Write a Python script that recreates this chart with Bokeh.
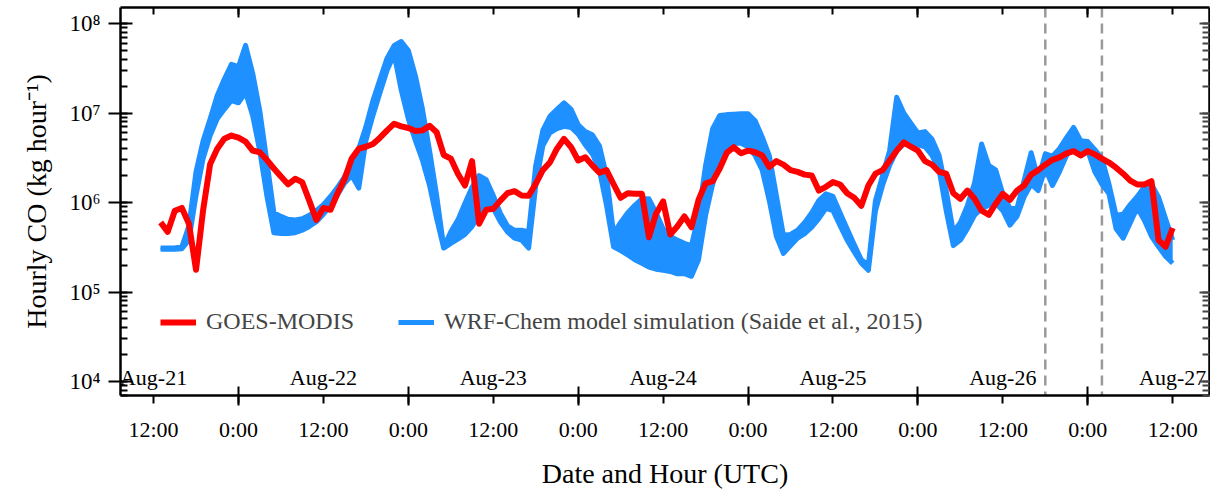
from bokeh.plotting import figure
from bokeh.models import (Range1d, LinearAxis, LogAxis, FixedTicker, LogTicker,
                          CustomJSTickFormatter, Span, Legend, LegendItem)
from bokeh.core.properties import value
from bokeh.embed import file_html
from bokeh.resources import INLINE

FONT = "Liberation Serif"

# ---------------- data (hours since Aug-21 00:00 UTC) ----------------
goes_hours = list(range(13, 157))
goes_co = [
    6.0e5, 4.7e5, 8.1e5, 8.7e5, 5.8e5, 1.77e5, 8.2e5, 2.7e6, 4.0e6, 5.15e6,   # 13-22
    5.6e6, 5.3e6, 4.8e6, 3.8e6, 3.65e6, 3.0e6, 2.4e6, 1.95e6, 1.6e6, 1.84e6,  # 23-32
    1.69e6, 1.05e6, 6.4e5, 8.7e5, 8.3e5, 1.27e6, 1.84e6, 3.1e6, 4.0e6, 4.2e6, # 33-42
    4.5e6, 5.3e6, 6.4e6, 7.6e6, 7.1e6, 6.8e6, 6.3e6, 6.4e6, 7.2e6, 6.1e6,     # 43-52
    3.4e6, 3.1e6, 2.1e6, 1.55e6, 2.9e6, 5.8e5, 8.3e5, 8.5e5, 1.05e6, 1.27e6,  # 53-62
    1.34e6, 1.2e6, 1.19e6, 1.62e6, 2.3e6, 2.8e6, 4.0e6, 5.15e6, 4.15e6, 2.95e6,  # 63-72
    3.2e6, 2.6e6, 2.15e6, 2.3e6, 1.6e6, 1.13e6, 1.27e6, 1.25e6, 1.25e6, 4.1e5,   # 73-82
    7.5e5, 1.03e6, 4.4e5, 5.4e5, 7.0e5, 5.3e5, 1.07e6, 1.64e6, 1.73e6, 2.4e6,    # 83-92
    3.6e6, 4.15e6, 3.55e6, 3.8e6, 3.65e6, 3.35e6, 2.5e6, 2.9e6, 2.65e6, 2.3e6,   # 93-102
    2.2e6, 2.05e6, 2.0e6, 1.36e6, 1.5e6, 1.69e6, 1.59e6, 1.27e6, 1.13e6, 9.2e5,  # 103-112
    1.55e6, 2.1e6, 2.3e6, 2.95e6, 3.8e6, 4.7e6, 4.2e6, 3.8e6, 2.9e6, 2.65e6,     # 113-122
    2.2e6, 2.1e6, 1.27e6, 1.1e6, 1.36e6, 1.1e6, 8.1e5, 7.3e5, 9.7e5, 1.25e6,     # 123-132
    1.07e6, 1.36e6, 1.55e6, 2.05e6, 2.3e6, 2.65e6, 3.0e6, 3.2e6, 3.55e6, 3.75e6, # 133-142
    3.35e6, 3.75e6, 3.45e6, 3.1e6, 2.8e6, 2.45e6, 2.1e6, 1.76e6, 1.59e6, 1.59e6, # 143-152
    1.73e6, 3.8e5, 3.2e5, 5.2e5,                                                 # 153-156
]

wrf_hours = list(range(13, 157))
wrf_upper = [
    3.1e5, 3.1e5, 3.1e5, 3.2e5, 5.5e5, 2.2e6, 4.9e6, 8.6e6, 1.57e7, 2.4e7,    # 13-22
    3.5e7, 3.3e7, 5.7e7, 2.8e7, 1.07e7, 2.95e6, 7.7e5, 7.0e5, 6.5e5, 6.4e5,   # 23-32
    6.6e5, 7.2e5, 8.1e5, 9.5e5, 1.17e6, 1.48e6, 1.95e6, 2.7e6, 4.0e6, 7.0e6,  # 33-42
    1.38e7, 2.4e7, 4.1e7, 5.7e7, 6.3e7, 5.0e7, 2.6e7, 1.1e7, 3.8e6, 1.2e6,    # 43-52
    3.2e5, 4.7e5, 6.4e5, 9.8e5, 1.48e6, 2.0e6, 1.8e6, 1.2e6, 7.6e5, 5.5e5,    # 53-62
    4.9e5, 4.9e5, 4.7e5, 2.6e6, 6.4e6, 9.2e6, 1.1e7, 1.3e7, 1.1e7, 7.4e6,     # 63-72
    6.2e6, 5.7e6, 4.3e6, 2.0e6, 4.5e5, 6.0e5, 7.7e5, 9.3e5, 1.1e6, 1.1e6,     # 73-82
    7.7e5, 5.1e5, 4.2e5, 3.8e5, 3.5e5, 3.3e5, 7.2e5, 2.6e6, 6.7e6, 9.4e6,     # 83-92
    9.6e6, 9.7e6, 9.8e6, 9.8e6, 8.2e6, 5.4e6, 3.35e6, 1.2e6, 4.3e5, 4.4e5,    # 93-102
    4.9e5, 6.0e5, 7.7e5, 1.05e6, 1.25e6, 1.17e6, 7.7e5, 5.1e5, 3.4e5, 2.3e5,  # 103-112
    2.0e5, 1.05e6, 2.0e6, 3.8e6, 1.5e7, 1.0e7, 7.7e6, 6.0e6, 6.2e6, 5.1e6,    # 113-122
    3.35e6, 1.36e6, 4.7e5, 6.0e5, 9.3e5, 1.65e6, 4.5e6, 2.6e6, 2.3e6, 1.25e6, # 123-132
    8.6e5, 8.6e5, 1.76e6, 3.6e6, 1.84e6, 3.5e6, 3.3e6, 4.0e6, 5.3e6, 6.9e6,   # 133-142
    4.9e6, 4.8e6, 3.9e6, 3.1e6, 1.6e6, 7.2e5, 7.4e5, 9.5e5, 1.17e6, 1.5e6,    # 143-152
    1.6e6, 1.15e6, 6.6e5, 3.8e5,                                              # 153-156
]
wrf_lower = [
    3.0e5, 3.0e5, 3.0e5, 3.05e5, 3.8e5, 1.2e6, 3.1e6, 5.6e6, 8.6e6, 1.1e7,    # 13-22
    1.38e7, 1.3e7, 1.7e7, 9.4e6, 3.8e6, 1.2e6, 4.6e5, 4.5e5, 4.5e5, 4.6e5,    # 23-32
    4.9e5, 5.4e5, 6.1e5, 7.4e5, 9.2e5, 1.22e6, 1.65e6, 2.0e6, 1.45e6, 4.9e6,  # 33-42
    9.4e6, 1.7e7, 3.0e7, 4.5e7, 1.8e7, 8.6e6, 4.9e6, 2.95e6, 1.55e6, 6.6e5,   # 43-52
    3.1e5, 3.5e5, 3.9e5, 4.4e5, 5.4e5, 7.2e5, 9.0e5, 8.6e5, 6.1e5, 4.7e5,     # 53-62
    4.0e5, 3.8e5, 3.1e5, 1.55e6, 4.3e6, 6.0e6, 6.7e6, 7.1e6, 6.9e6, 5.8e6,    # 63-72
    4.4e6, 3.5e6, 2.3e6, 9.3e5, 3.2e5, 2.9e5, 2.6e5, 2.3e5, 2.1e5, 1.9e5,     # 73-82
    1.8e5, 1.75e5, 1.7e5, 1.6e5, 1.6e5, 1.5e5, 2.3e5, 7.2e5, 1.6e6, 2.95e6,   # 83-92
    3.8e6, 4.6e6, 4.6e6, 4.2e6, 3.35e6, 2.3e6, 1.05e6, 4.2e5, 2.7e5, 3.3e5,   # 93-102
    4.0e5, 4.5e5, 5.3e5, 6.6e5, 8.6e5, 8.1e5, 5.5e5, 3.8e5, 2.8e5, 2.1e5,     # 103-112
    1.75e5, 8.1e5, 1.55e6, 2.6e6, 3.8e6, 4.5e6, 4.5e6, 4.4e6, 4.2e6, 3.35e6,  # 113-122
    2.3e6, 8.1e5, 3.3e5, 3.8e5, 5.1e5, 7.2e5, 8.6e5, 9.3e5, 9.8e5, 8.1e5,     # 123-132
    5.6e5, 7.0e5, 1.15e6, 1.6e6, 1.36e6, 2.4e6, 1.55e6, 2.2e6, 3.35e6, 4.5e6, # 133-142
    3.35e6, 3.8e6, 2.2e6, 1.6e6, 1.25e6, 5.1e5, 4.0e5, 5.9e5, 8.8e5, 6.3e5,   # 143-152
    4.2e5, 3.2e5, 2.5e5, 2.1e5,                                               # 153-156
]

tick_hours = [12, 24, 36, 48, 60, 72, 84, 96, 108, 120, 132, 144, 156]
tick_labels = ["12:00", "0:00", "12:00", "0:00", "12:00", "0:00", "12:00",
               "0:00", "12:00", "0:00", "12:00", "0:00", "12:00"]
midnight_hours = [24, 48, 72, 96, 120, 144]
day_hours = [12, 36, 60, 84, 108, 132, 156]
day_labels = ["Aug-21", "Aug-22", "Aug-23", "Aug-24", "Aug-25", "Aug-26", "Aug-27"]
day_label_y = 1.1e4
marker_hours = [138, 146]

RED = "#FF0000"
BLUE = "#1E90FF"

# ---------------- figure ----------------
p = figure(width=1210, height=492, y_axis_type="log",
           x_range=Range1d(7.33, 161.2), y_range=Range1d(10 ** 3.844, 10 ** 8.179),
           output_backend="svg", toolbar_location=None,
           min_border_left=120, min_border_right=1, min_border_top=7, min_border_bottom=97)
p.outline_line_color = None
p.grid.visible = False
p.background_fill_color = "white"
p.border_fill_color = "white"

for m in marker_hours:
    p.add_layout(Span(location=m, dimension="height", line_color="#999999",
                      line_width=2.5, line_dash="10 6", level="underlay"))

p.varea(x=wrf_hours, y1=wrf_lower, y2=wrf_upper, fill_color=BLUE)
up = p.line(wrf_hours, wrf_upper, line_color=BLUE, line_width=5, line_join="round")
p.line(wrf_hours, wrf_lower, line_color=BLUE, line_width=5, line_join="round")
red = p.line(goes_hours, goes_co, line_color=RED, line_width=6, line_join="round")

p.text(x=day_hours, y=[day_label_y] * len(day_hours), text=day_labels,
       text_font=value(FONT), text_font_size="22px", text_align="center",
       text_baseline="middle", text_color="black")

legend = Legend(items=[LegendItem(label="GOES-MODIS", renderers=[red]),
                       LegendItem(label="WRF-Chem model simulation (Saide et al., 2015)", renderers=[up])],
                orientation="horizontal", location=(40, 60), border_line_color=None,
                background_fill_alpha=0, label_text_font=FONT, label_text_font_size="24px",
                glyph_width=36, glyph_height=24, label_height=24, label_standoff=10,
                spacing=44, padding=0, margin=0)
p.add_layout(legend)

# ---------------- axes ----------------
xfmt = CustomJSTickFormatter(args=dict(hours=tick_hours, labels=tick_labels),
                             code="const i = hours.indexOf(tick); return i >= 0 ? labels[i] : '';")
xa = p.xaxis[0]
xa.ticker = FixedTicker(ticks=tick_hours, minor_ticks=midnight_hours)
xa.formatter = xfmt
xa.major_tick_in = 0
xa.major_tick_out = 8
xa.minor_tick_in = 9
xa.minor_tick_out = 10
xa.axis_label = "Date and Hour (UTC)"

ya = p.yaxis[0]
ya.ticker = LogTicker(num_minor_ticks=10)
ya.formatter = CustomJSTickFormatter(code="""
const sup = {'0':'\u2070','1':'\u00b9','2':'\u00b2','3':'\u00b3','4':'\u2074','5':'\u2075','6':'\u2076','7':'\u2077','8':'\u2078','9':'\u2079','-':'\u207b'};
const e = Math.round(Math.log10(tick));
return '10' + String(e).split('').map(c => sup[c]).join('');
""")
ya.major_tick_in = 12
ya.major_tick_out = 12
ya.minor_tick_in = 7
ya.minor_tick_out = 0
ya.axis_label = "Hourly CO (kg hour\u207b\u00b9)"

for ax in (xa, ya):
    ax.axis_line_width = 2.5
    ax.axis_line_color = "black"
    ax.major_tick_line_width = 2
    ax.minor_tick_line_width = 2
    ax.major_tick_line_color = "black"
    ax.minor_tick_line_color = "black"
    ax.major_label_text_font = FONT
    ax.major_label_text_color = "black"
    ax.axis_label_text_font = FONT
    ax.axis_label_text_font_size = "28px"
    ax.axis_label_text_font_style = "normal"
    ax.axis_label_text_color = "black"
xa.major_label_text_font_size = "22px"
ya.major_label_text_font_size = "23px"
xa.major_label_standoff = 11
xa.axis_label_standoff = 13
ya.major_label_standoff = 8
ya.axis_label_standoff = 14

top = LinearAxis(ticker=FixedTicker(ticks=tick_hours, minor_ticks=midnight_hours),
                 formatter=CustomJSTickFormatter(code="return '';"),
                 major_tick_in=7, major_tick_out=0, minor_tick_in=10, minor_tick_out=0,
                 major_label_standoff=0, major_label_text_font_size="0px",
                 axis_line_width=2.5, major_tick_line_width=2, minor_tick_line_width=2)
p.add_layout(top, "above")

right = LogAxis(ticker=LogTicker(num_minor_ticks=10),
                formatter=CustomJSTickFormatter(code="return '';"),
                major_tick_in=10, major_tick_out=0, minor_tick_in=7, minor_tick_out=0,
                major_label_standoff=0, major_label_text_font_size="0px",
                axis_line_width=2.5, major_tick_line_width=2, minor_tick_line_width=2,
                major_tick_line_color="#444444", minor_tick_line_color="#444444")
p.add_layout(right, "right")

open("out.html", "w").write(file_html(p, INLINE))
